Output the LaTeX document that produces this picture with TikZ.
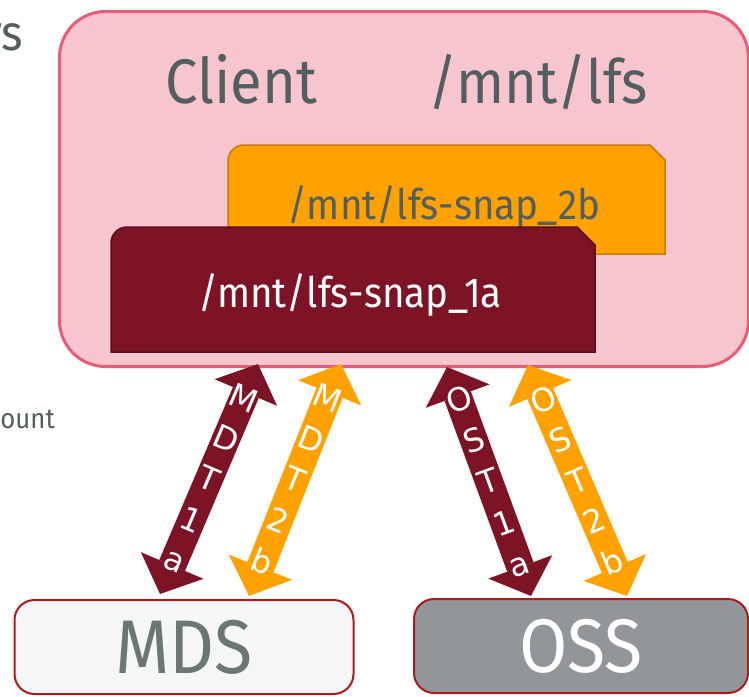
\documentclass[tikz,border=0pt]{standalone}
\usepackage{fontspec}
\setmainfont[FakeStretch=0.92]{Fira Sans}
\newfontfamily\dv{DejaVu Sans}
\usetikzlibrary{arrows.meta}
\definecolor{cfill}{HTML}{F6C5CD}
\definecolor{cline}{HTML}{E85C76}
\definecolor{ofill}{HTML}{FFA200}
\definecolor{oline}{HTML}{C77A12}
\definecolor{dred}{HTML}{7D1426}
\definecolor{dline}{HTML}{5C0E1C}
\definecolor{txtgray}{HTML}{545E5E}
\definecolor{mdsgray}{HTML}{6B7774}
\definecolor{mdsfill}{HTML}{F4F6F8}
\definecolor{ossfill}{HTML}{929599}
\definecolor{boxline}{HTML}{A81C1E}
\tikzset{
  plain/.style={inner sep=0pt, anchor=base west},
  tabtext/.style={inner sep=0pt, anchor=base, font=\fontsize{42}{46}\selectfont},
  serverbox/.style={draw=boxline, line width=2pt, rounded corners=20pt, inner sep=0pt,
    minimum width=339pt, minimum height=94pt, font=\fontsize{76}{84}\selectfont},
  biarrow/.style={line width=28pt,
    {Triangle[width=68pt,length=31pt,line width=0pt]}-{Triangle[width=68pt,length=31pt,line width=0pt]}},
  lbl/.style={text=white, align=center, inner sep=0pt, font=\dv\fontsize{32}{44}\selectfont}
}
\begin{document}
\begin{tikzpicture}[x=1pt,y=-1pt]
\useasboundingbox (0,0) rectangle (749,696);

% fragments of surrounding slide text
\node[inner sep=0pt, anchor=base east, text=txtgray, font=\fontsize{50}{60}\selectfont] (frag1) at (23,50) {rs};
\node[inner sep=0pt, anchor=base east, text=txtgray, font=\fontsize{28}{34}\selectfont] (frag2) at (55,428) {ount};

% client box
\node[draw=cline, fill=cfill, line width=3pt, rounded corners=46pt, inner sep=0pt,
      minimum width=689pt, minimum height=355pt, anchor=north west] (client) at (58,10) {};
\node[plain, text=txtgray, font=\fontsize{63}{70}\selectfont] (clienttxt) at (165,103) {Client};
\node[inner sep=0pt, anchor=base east, text=txtgray, font=\fontsize{61}{70}\selectfont] (mnttxt) at (648,103) {/mnt/lfs};

% snapshot tabs
\draw[fill=ofill, draw=oline, line width=1.5pt]
  (228,254) [rounded corners=16pt]-- (228,145) [sharp corners]-- (650,145) -- (665,160) -- (665,254) -- cycle;
\node[tabtext, text=txtgray] (snap2) at (444,219) {/mnt/lfs-snap\_2b};

\draw[fill=dred, draw=dline, line width=1.5pt]
  (111,352) [rounded corners=16pt]-- (111,227) [sharp corners]-- (577,227) -- (595,245) -- (595,352) -- cycle;
\node[tabtext, text=white] (snap1) at (350,307) {/mnt/lfs-snap\_1a};

% connector end points
\coordinate (m1t) at (258,364);
\coordinate (m1b) at (160,594);
\coordinate (m2t) at (341,364);
\coordinate (m2b) at (249,596);
\coordinate (o1t) at (447,367);
\coordinate (o1b) at (531,596);
\coordinate (o2t) at (528,365);
\coordinate (o2b) at (627,596);

\draw[biarrow, draw=dred] (m1t) -- node[lbl, rotate=-23] (l1) {M\\D\\T\\1\\a} (m1b);
\draw[biarrow, draw=ofill] (m2t) -- node[lbl, rotate=-22] (l2) {M\\D\\T\\2\\b} (m2b);
\draw[biarrow, draw=dred] (o1t) -- node[lbl, rotate=20] (l3) {O\\S\\T\\1\\a} (o1b);
\draw[biarrow, draw=ofill] (o2t) -- node[lbl, rotate=23] (l4) {O\\S\\T\\2\\b} (o2b);

% servers
\node[serverbox, fill=mdsfill, text=mdsgray] (mds) at (184,647) {MDS};
\node[serverbox, fill=ossfill, text=white, minimum width=334pt] (oss) at (581,646) {OSS};
\end{tikzpicture}
\end{document}
